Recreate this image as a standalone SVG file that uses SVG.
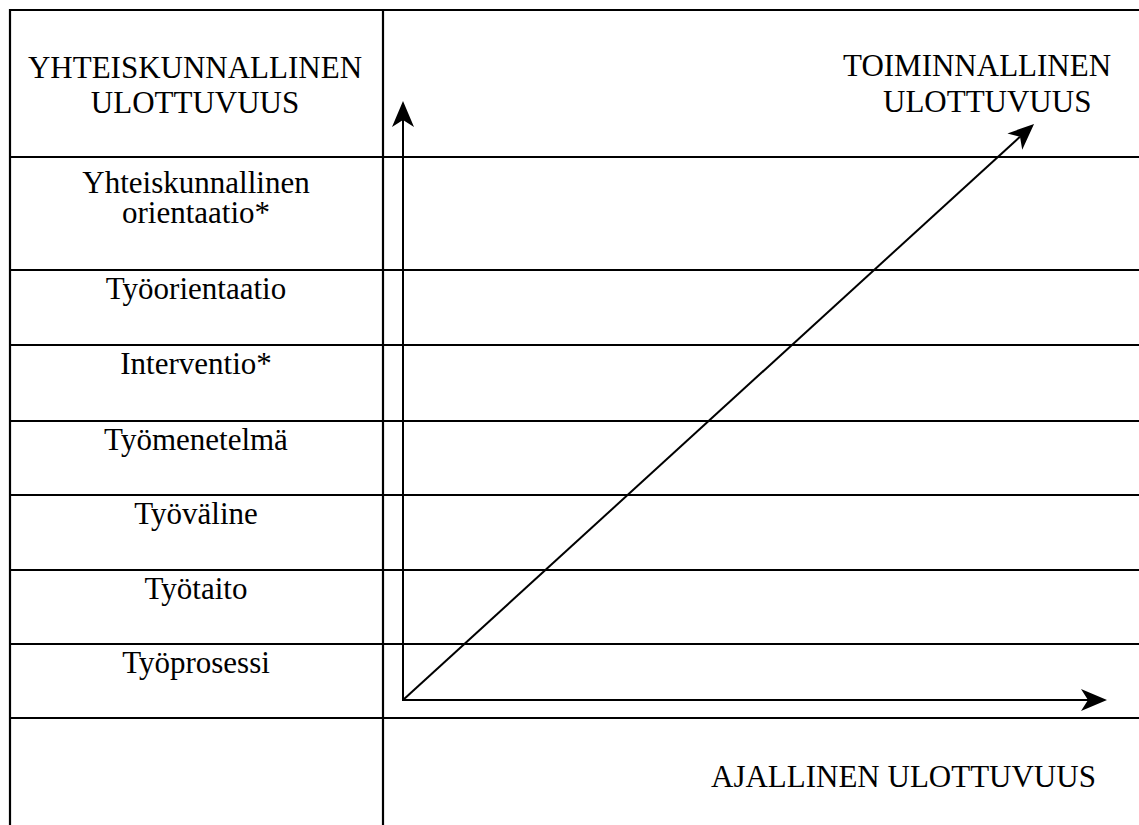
<svg xmlns="http://www.w3.org/2000/svg" width="1139" height="825" viewBox="0 0 1139 825">
<style>
.grid{stroke:#000;stroke-width:2.2;fill:none}
.ax{stroke:#000;stroke-width:2;fill:none}
text{font-family:"Liberation Serif","Times New Roman",serif;font-size:31px;fill:#000}
.c{text-anchor:middle}
</style>
<defs>
<marker id="ah" markerUnits="userSpaceOnUse" markerWidth="30" markerHeight="30" refX="7" refY="12" orient="auto" overflow="visible">
<path d="M0,1 L26,12 L0,23 L7,12 Z" fill="#000"/>
</marker>
</defs>
<rect width="1139" height="825" fill="#fff"/>
<g id="table" class="grid">
<line x1="9" y1="10" x2="1139" y2="10"/>
<line x1="10" y1="9" x2="10" y2="825"/>
<line x1="383" y1="9" x2="383" y2="825"/>
<line x1="9" y1="157" x2="1139" y2="157"/>
<line x1="9" y1="270" x2="1139" y2="270"/>
<line x1="9" y1="345" x2="1139" y2="345"/>
<line x1="9" y1="421" x2="1139" y2="421"/>
<line x1="9" y1="495" x2="1139" y2="495"/>
<line x1="9" y1="570" x2="1139" y2="570"/>
<line x1="9" y1="644" x2="1139" y2="644"/>
<line x1="9" y1="718" x2="1139" y2="718"/>
</g>
<g id="connectors" class="ax">
<line x1="403" y1="700" x2="403" y2="120" marker-end="url(#ah)"/>
<line x1="402" y1="700" x2="1088" y2="700" marker-end="url(#ah)"/>
<line x1="403" y1="700" x2="1020" y2="136.8" marker-end="url(#ah)"/>
</g>
<g id="yhteiskunnallinen-ulottuvuus"><text class="c" x="195" y="78">YHTEISKUNNALLINEN</text><text class="c" x="195" y="113">ULOTTUVUUS</text></g>
<g id="toiminnallinen-ulottuvuus"><text x="843" y="76">TOIMINNALLINEN</text><text x="883" y="112">ULOTTUVUUS</text></g>
<g id="yhteiskunnallinen-orientaatio"><text class="c" x="196" y="193">Yhteiskunnallinen</text><text class="c" x="196" y="223">orientaatio*</text></g>
<g id="tyoorientaatio"><text class="c" x="196" y="299">Työorientaatio</text></g>
<g id="interventio"><text class="c" x="196" y="374">Interventio*</text></g>
<g id="tyomenetelma"><text class="c" x="196" y="450">Työmenetelmä</text></g>
<g id="tyovaline"><text class="c" x="196" y="524">Työväline</text></g>
<g id="tyotaito"><text class="c" x="196" y="599">Työtaito</text></g>
<g id="tyoprosessi"><text class="c" x="196" y="673">Työprosessi</text></g>
<g id="ajallinen-ulottuvuus"><text x="711" y="787">AJALLINEN ULOTTUVUUS</text></g>
</svg>
